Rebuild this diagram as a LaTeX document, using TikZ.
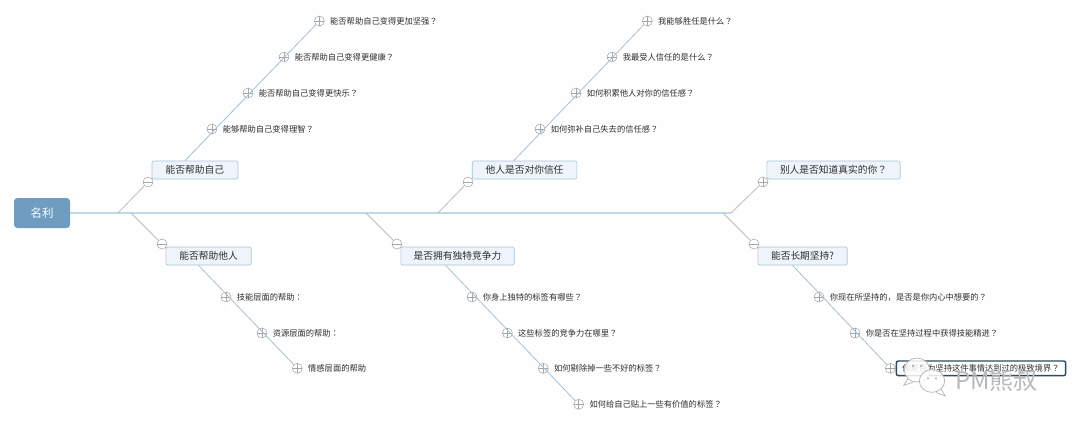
\documentclass[tikz,border=0pt]{standalone}
\usepackage{fontspec}
\setmainfont{Noto Sans CJK SC}
\newfontfamily\tcfont{Noto Sans CJK TC}
\usepackage{tikz}
\usetikzlibrary{positioning,shapes.geometric}
\definecolor{rootblue}{HTML}{6F9DC0}
\definecolor{spineblue}{HTML}{C3D8E5}
\definecolor{topicfill}{HTML}{EEF4F9}
\definecolor{topicedge}{HTML}{A9C4D6}
\definecolor{twiggray}{HTML}{BDBDBD}
\definecolor{twigblue}{HTML}{A8C0D2}
\definecolor{foldgray}{HTML}{A6A6A6}
\definecolor{inkgray}{HTML}{2E2E2E}
\definecolor{boxdark}{HTML}{2D4A63}
\newcommand{\qm}{{\tcfont ？}}
\newcommand{\cl}{{\tcfont ：}}
\tikzset{
  root/.style={fill=rootblue,rounded corners=2.5pt,text=white,font=\fontsize{8.6}{10}\selectfont,minimum width=42pt,minimum height=22.5pt,inner sep=0pt},
  topic/.style={draw=topicedge,fill=topicfill,rounded corners=1.5pt,text=inkgray,font=\fontsize{7.3}{9}\selectfont,minimum height=13.5pt,inner sep=0pt,line width=.5pt},
  leaf/.style={text=inkgray,font=\fontsize{6.2}{8}\selectfont,inner sep=0pt},
  fold/.style={circle,draw=foldgray,fill=white,minimum size=7.5pt,inner sep=0pt,line width=.4pt},
  foldminus/.style={fold,path picture={\draw[foldgray,line width=.4pt] (path picture bounding box.west)--(path picture bounding box.east);}},
  foldplus/.style={fold,path picture={\draw[foldgray,line width=.4pt] (path picture bounding box.west)--(path picture bounding box.east) (path picture bounding box.north)--(path picture bounding box.south);}},
  spine/.style={spineblue,line width=1.5pt},
  bone/.style={twiggray,line width=.6pt},
  twig/.style={twigblue,line width=.6pt},
  bubble/.style={ellipse,draw=gray!60,fill=white,fill opacity=.85,line width=.5pt,inner sep=0pt}
}
\begin{document}
\begin{tikzpicture}[x=0.75pt,y=-0.75pt]
    \fill[white!99!gray] (0,0) rectangle (1080,426);
    \useasboundingbox (0,0) rectangle (1080,426);
    \node[root] (mingli) at (42,213) {名利}; %
    \coordinate (sp1) at (118,213);
    \coordinate (sp2) at (131,213);
    \coordinate (sp3) at (366,213);
    \coordinate (sp4) at (438,213);
    \coordinate (sp5) at (723,213);
    \coordinate (sp6) at (731,213);
    % topics above the spine
    \node[foldminus] (fself) at (148,182) {};
    \node[topic, minimum width=64.5pt, xshift=35.2pt, yshift=9pt] (self) at (fself) {能否帮助自己};
    \node[foldminus] (ftrust) at (468,182) {};
    \node[topic, minimum width=78.5pt, xshift=42.4pt, yshift=9pt] (trust) at (ftrust) {他人是否对你信任};
    \node[foldplus] (freal) at (763,182) {};
    \node[topic, minimum width=100pt, xshift=52.9pt, yshift=9pt] (real) at (freal) {别人是否知道真实的你\qm};
    % topics below the spine
    \node[foldminus] (fother) at (162,244) {};
    \node[topic, minimum width=64pt, xshift=34.9pt, yshift=-9pt] (other) at (fother) {能否帮助他人};
    \node[foldminus] (fedge) at (397,244) {};
    \node[topic, minimum width=85pt, xshift=45.4pt, yshift=-9pt] (edge) at (fedge) {是否拥有独特竞争力};
    \node[foldminus] (flong) at (754,244) {};
    \node[topic, minimum width=67pt, xshift=36.4pt, yshift=-9pt] (long) at (flong) {能否长期坚持?};
    % leaves of self
    \node[foldplus] (a1) at (212,129) {};
    \node[foldplus, xshift=27pt, yshift=27pt] (a2) at (a1) {};
    \node[foldplus, xshift=27pt, yshift=27pt] (a3) at (a2) {};
    \node[foldplus, xshift=26.5pt, yshift=27pt] (a4) at (a3) {};
    \node[leaf, right=4pt of a1] (la1) {能够帮助自己变得理智\qm};
    \node[leaf, right=4pt of a2] (la2) {能否帮助自己变得更快乐\qm};
    \node[leaf, right=4pt of a3] (la3) {能否帮助自己变得更健康\qm};
    \node[leaf, right=4pt of a4] (la4) {能否帮助自己变得更加坚强\qm};
    % leaves of trust
    \node[foldplus] (b1) at (540,129) {};
    \node[foldplus, xshift=27pt, yshift=27pt] (b2) at (b1) {};
    \node[foldplus, xshift=27pt, yshift=27pt] (b3) at (b2) {};
    \node[foldplus, xshift=26.5pt, yshift=27pt] (b4) at (b3) {};
    \node[leaf, right=4pt of b1] (lb1) {如何弥补自己失去的信任感\qm};
    \node[leaf, right=4pt of b2] (lb2) {如何积累他人对你的信任感\qm};
    \node[leaf, right=4pt of b3] (lb3) {我最受人信任的是什么\qm};
    \node[leaf, right=4pt of b4] (lb4) {我能够胜任是什么\qm};
    % leaves of other
    \node[foldplus] (c1) at (226,297) {};
    \node[foldplus, xshift=27pt, yshift=-27pt] (c2) at (c1) {};
    \node[foldplus, xshift=26.5pt, yshift=-26.5pt] (c3) at (c2) {};
    \node[leaf, right=4pt of c1] (lc1) {技能层面的帮助\cl};
    \node[leaf, right=4pt of c2] (lc2) {资源层面的帮助\cl};
    \node[leaf, right=4pt of c3] (lc3) {情感层面的帮助};
    % leaves of edge
    \node[foldplus] (d1) at (472,297) {};
    \node[foldplus, xshift=26.5pt, yshift=-27pt] (d2) at (d1) {};
    \node[foldplus, xshift=27pt, yshift=-26.5pt] (d3) at (d2) {};
    \node[foldplus, xshift=26.5pt, yshift=-27pt] (d4) at (d3) {};
    \node[leaf, right=4pt of d1] (ld1) {你身上独特的标签有哪些\qm};
    \node[leaf, right=4pt of d2] (ld2) {这些标签的竞争力在哪里\qm};
    \node[leaf, right=4pt of d3] (ld3) {如何剔除掉一些不好的标签\qm};
    \node[leaf, right=4pt of d4] (ld4) {如何给自己贴上一些有价值的标签\qm};
    % leaves of long
    \node[foldplus] (e1) at (819,297) {};
    \node[foldplus, xshift=27pt, yshift=-27pt] (e2) at (e1) {};
    \node[foldplus, xshift=26.5pt, yshift=-26.5pt] (e3) at (e2) {};
    \node[leaf, right=4pt of e1] (le1) {你现在所坚持的，是否是你内心中想要的\qm};
    \node[leaf, right=4pt of e2] (le2) {你是否在坚持过程中获得技能精进\qm};
    \node[leaf, draw=boxdark, line width=1.1pt, rounded corners=1.5pt, fill=white, minimum width=127pt, minimum height=11pt, right=0pt of e3] (le3) {你是否为坚持这件事情达到过的极致境界\qm};
    \draw[spine] (mingli)--(sp6);
    \draw[bone] (sp1)--(fself);
    \draw[bone] (sp2)--(fother);
    \draw[bone] (sp3)--(fedge);
    \draw[bone] (sp4)--(ftrust);
    \draw[bone] (sp5)--(flong);
    \draw[bone] (sp6)--(freal);
    \draw[twig] ([xshift=-7.5pt]self.north)--(a4);
    \draw[twig] ([xshift=-8pt]trust.north)--(b4);
    \draw[twig] ([xshift=-7.5pt]other.south)--(c3);
    \draw[twig] ([xshift=-9pt]edge.south)--(d4);
    \draw[twig] ([xshift=-7.5pt]long.south)--(e3);
    % watermark
    \node[bubble, minimum width=19pt, minimum height=18pt] (wmback) at (917,370) {};
    \draw[gray!60, line width=.5pt] (wmback.south west)--++(-3pt,-5pt)--++(7pt,2.5pt);
    \node[bubble, minimum width=19pt, minimum height=17pt] (wmfront) at (932,381) {};
    \draw[gray!60, line width=.5pt] (wmfront.south east)--++(3pt,-5pt)--++(-7pt,2.5pt);
    \fill[gray!70] (wmback)+(-3pt,3pt) circle (.8pt) (wmback)+(3pt,3pt) circle (.8pt);
    \fill[gray!70] (wmfront)+(-3pt,2pt) circle (.8pt) (wmfront)+(3pt,2pt) circle (.8pt);
    \node[font=\fontsize{18}{20}\selectfont, text=gray!55, inner sep=0pt, anchor=west] (wmname) at (955,380) {PM熊叔};
\end{tikzpicture}
\end{document}
